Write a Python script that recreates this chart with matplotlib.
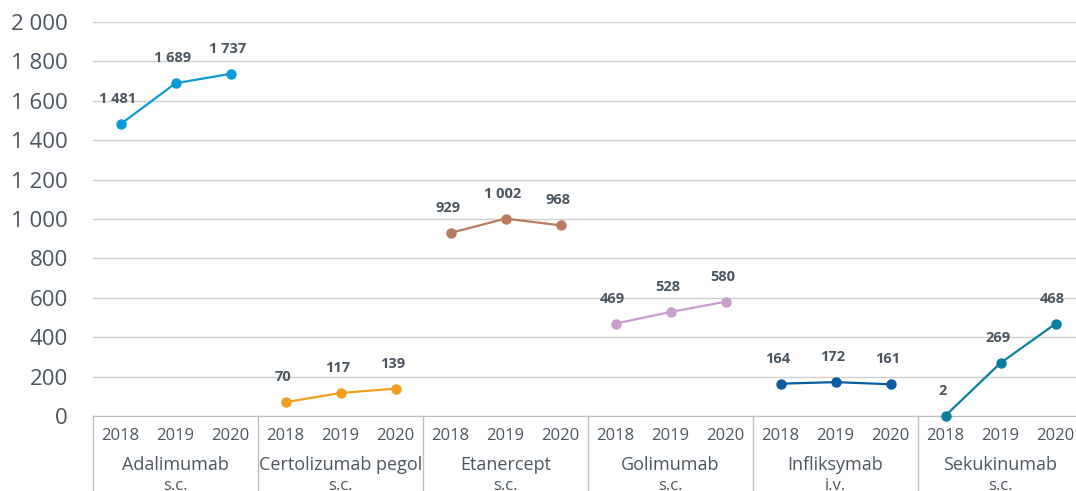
import matplotlib.pyplot as plt
from matplotlib.transforms import blended_transform_factory

plt.rcParams['font.family'] = ['Open Sans', 'DejaVu Sans']

drugs = ["Adalimumab", "Certolizumab pegol", "Etanercept", "Golimumab", "Infliksymab", "Sekukinumab"]
routes = ["s.c.", "s.c.", "s.c.", "s.c.", "i.v.", "s.c."]
years = ["2018", "2019", "2020"]
adalimumab = [1481, 1689, 1737]
certolizumab = [70, 117, 139]
etanercept = [929, 1002, 968]
golimumab = [469, 528, 580]
infliksymab = [164, 172, 161]
sekukinumab = [2, 269, 468]
series = [adalimumab, certolizumab, etanercept, golimumab, infliksymab, sekukinumab]
colors = ["#0c9bd7", "#f0a020", "#b97b5f", "#c99dcc", "#0b5c9e", "#0a7f9f"]
yticks = [0, 200, 400, 600, 800, 1000, 1200, 1400, 1600, 1800, 2000]

txt = "#4b5661"
grid = "#cfcfcf"

def fmt(v):
    return f"{v:,}".replace(",", " ")

fig = plt.figure(figsize=(10.76, 4.91), dpi=100)
# the last group runs a little past the right edge of the picture
ax = fig.add_axes([93 / 1076, 75 / 491, 990 / 1076, 394 / 491])

for g, vals in enumerate(series):
    xs = [g * 3 + i for i in range(3)]
    ax.plot(xs, vals, color=colors[g], lw=1.6, marker="o", ms=6.5, zorder=3, clip_on=False)
    for x, v in zip(xs, vals):
        ax.annotate(fmt(v), (x, v), xytext=(-2, 13), textcoords="offset points",
                    ha="center", va="bottom", fontsize=10.5, fontweight="bold", color=txt)

ax.set_xlim(-0.5, 17.5)
ax.set_ylim(0, 2000)
ax.set_yticks(yticks)
ax.set_yticklabels([fmt(t) for t in yticks], fontsize=16, color=txt)
ax.tick_params(axis="y", length=0, pad=18)
ax.set_xticks([])
ax.grid(axis="y", color=grid, lw=1)
ax.set_axisbelow(True)
for s in ["top", "right", "left"]:
    ax.spines[s].set_visible(False)
ax.spines["bottom"].set_color("#bdbdbd")

tr = blended_transform_factory(ax.transData, ax.transAxes)
for g in range(7):
    ax.plot([g * 3 - 0.5, g * 3 - 0.5], [0, -0.19], color="#bdbdbd", lw=1,
            transform=tr, clip_on=False)
for g in range(6):
    for i, y in enumerate(years):
        ax.text(g * 3 + i, -0.05, y, transform=tr, ha="center", va="center",
                fontsize=12, color=txt)
    ax.text(g * 3 + 1, -0.125, drugs[g], transform=tr, ha="center", va="center",
            fontsize=13, color=txt)
    ax.text(g * 3 + 1, -0.178, routes[g], transform=tr, ha="center", va="center",
            fontsize=12, color=txt)

fig.savefig("out.png", dpi=100)
